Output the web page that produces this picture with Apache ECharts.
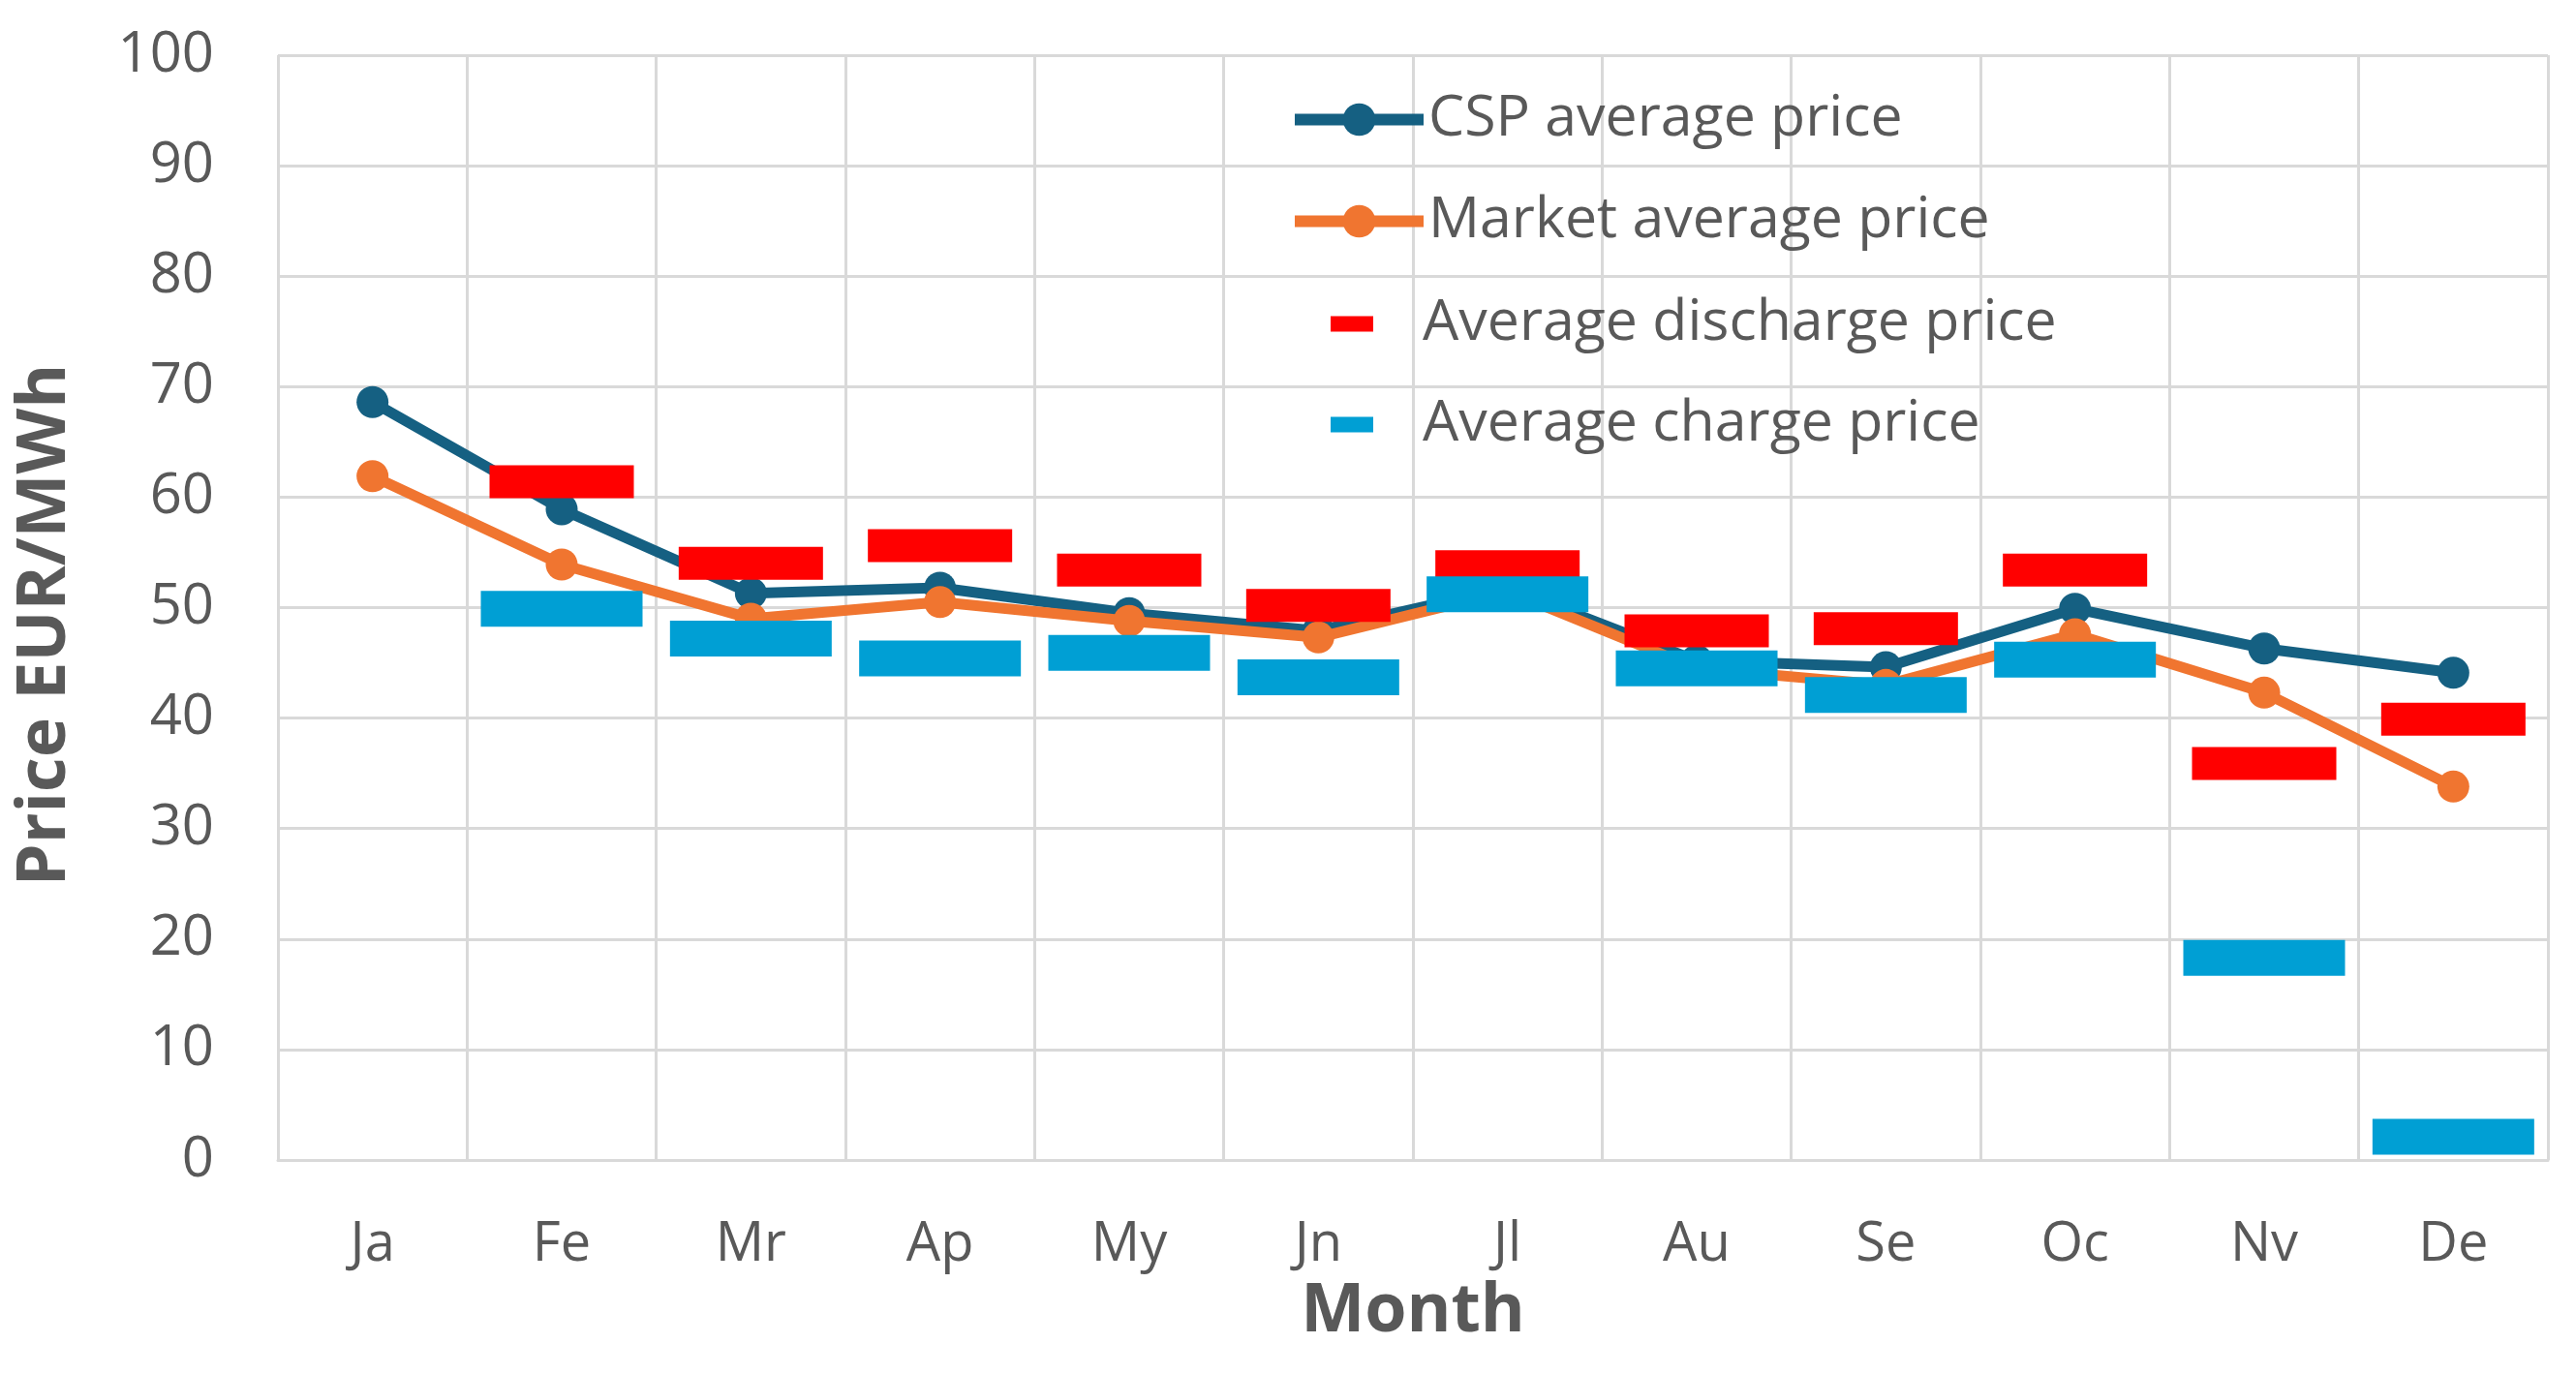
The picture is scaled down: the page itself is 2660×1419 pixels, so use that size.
<!DOCTYPE html>
<html>
<head>
<meta charset="utf-8">
<script src="https://cdn.jsdelivr.net/npm/echarts@6/dist/echarts.min.js"></script>
<style>
html,body{margin:0;padding:0;background:#fff;}
#chart{width:2660px;height:1419px;}
</style>
</head>
<body>
<div id="chart"></div>
<script>
const months = ['Ja','Fe','Mr','Ap','My','Jn','Jl','Au','Se','Oc','Nv','De'];
const cspAvg = [68.6, 58.9, 51.3, 51.8, 49.5, 47.9, 51.8, 45.2, 44.6, 49.9, 46.3, 44.1];
const marketAvg = [61.9, 53.9, 49.0, 50.5, 48.8, 47.3, 51.5, 44.5, 43.0, 47.6, 42.3, 33.8];
const dischargeAvg = [null, 61.4, 54.0, 55.6, 53.4, 50.2, 53.7, 47.9, 48.1, 53.4, 35.9, 39.9];
const chargeAvg = [null, 49.9, 47.2, 45.4, 45.9, 43.7, 51.2, 44.5, 42.1, 45.3, 18.3, 2.1];
const yTicks = [0,10,20,30,40,50,60,70,80,90,100];

const FONT = 'Open Sans';
const GRAY = '#595959';
const GRID = '#D9D9D9';
const C_CSP = '#156082';
const C_MKT = '#F07530';
const C_DIS = '#FF0000';
const C_CHG = '#009FD4';

const legendText = {fontFamily: FONT, fontSize: 59, color: GRAY};
function lineLegend(name, top) {
  return {
    data: [name], left: 1331, top: top, padding: 0,
    itemWidth: 133, itemHeight: 42,
    lineStyle: {width: 12},
    textStyle: legendText
  };
}
function boxLegend(name, top) {
  return {
    data: [{name: name, icon: 'rect'}], left: 1374, top: top, padding: 0,
    itemWidth: 44, itemHeight: 16,
    formatter: n => '{g|}{t|' + n + '}',
    textStyle: Object.assign({}, legendText, {
      rich: {g: {width: 46}, t: legendText}
    })
  };
}

const chart = echarts.init(document.getElementById('chart'));
chart.setOption({
  animation: false,
  backgroundColor: '#fff',
  grid: {left: 287, right: 29, top: 57, bottom: 221},
  legend: [
    lineLegend('CSP average price', 94),
    lineLegend('Market average price', 199),
    boxLegend('Average discharge price', 305),
    boxLegend('Average charge price', 409)
  ],
  xAxis: {
    type: 'category', data: months, boundaryGap: true,
    name: 'Month', nameLocation: 'middle', nameGap: 122,
    nameTextStyle: {fontFamily: FONT, fontSize: 70, fontWeight: 'bold', color: GRAY},
    axisLine: {show: true, lineStyle: {color: GRID, width: 3}},
    axisTick: {show: false},
    axisLabel: {fontFamily: FONT, fontSize: 56, color: GRAY, margin: 60},
    splitLine: {show: true, lineStyle: {color: GRID, width: 3}}
  },
  yAxis: {
    type: 'value', min: 0, max: 100, interval: 10,
    name: 'Price EUR/MWh', nameLocation: 'middle', nameGap: 205,
    nameTextStyle: {fontFamily: FONT, fontSize: 70, fontWeight: 'bold', color: GRAY, padding: [0, 36, 0, 0]},
    axisLine: {show: false}, axisTick: {show: false},
    axisLabel: {fontFamily: FONT, fontSize: 58, color: GRAY, margin: 66,
      formatter: v => yTicks.includes(v) ? String(v) : ''},
    splitLine: {show: true, lineStyle: {color: GRID, width: 3}}
  },
  series: [{
    name: 'CSP average price', type: 'line', data: cspAvg,
    symbol: 'circle', symbolSize: 33,
    lineStyle: {color: C_CSP, width: 11}, itemStyle: {color: C_CSP}, z: 2
  }, {
    name: 'Market average price', type: 'line', data: marketAvg,
    symbol: 'circle', symbolSize: 33,
    lineStyle: {color: C_MKT, width: 11}, itemStyle: {color: C_MKT}, z: 3
  }, {
    name: 'Average discharge price', type: 'scatter', data: dischargeAvg,
    symbol: 'rect', symbolSize: [149, 34],
    itemStyle: {color: C_DIS, opacity: 1}, z: 4
  }, {
    name: 'Average charge price', type: 'scatter', data: chargeAvg,
    symbol: 'rect', symbolSize: [167, 37],
    itemStyle: {color: C_CHG, opacity: 1}, z: 5
  }]
});
</script>
</body>
</html>
